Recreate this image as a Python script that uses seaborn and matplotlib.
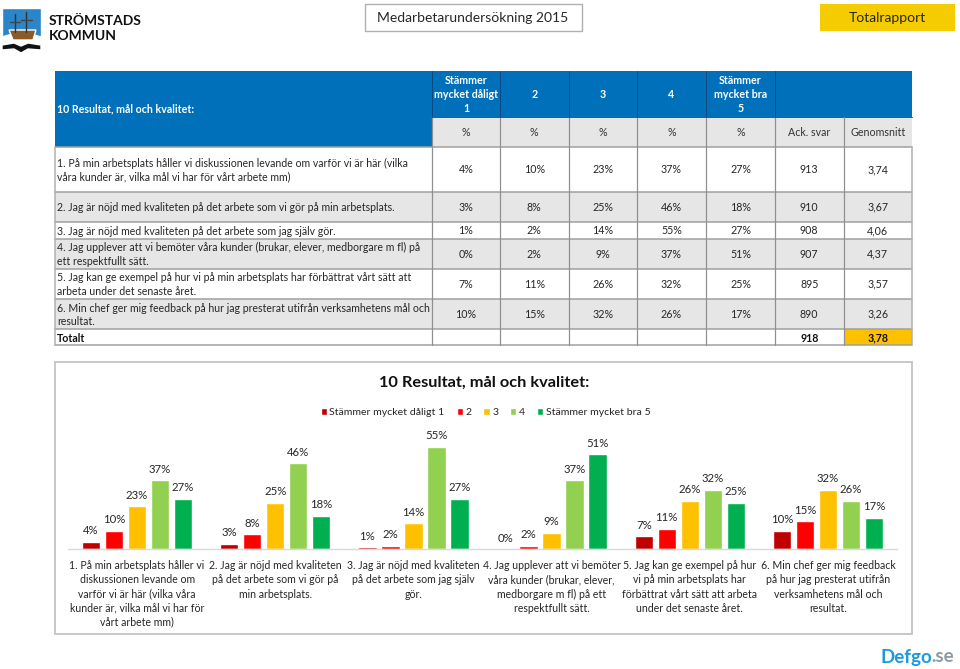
import pandas as pd
import matplotlib.pyplot as plt
from matplotlib.patches import Rectangle, Polygon
import seaborn as sns

# ------- DATA ---------

TITLE = "10 Resultat, mål och kvalitet:"
series_names = ["Stämmer mycket dåligt 1", "2", "3", "4", "Stämmer mycket bra 5"]
series_colors = ["#C00000", "#FF0000", "#FFC000", "#92D050", "#00B050"]

chart_labels = [
    "1. På min arbetsplats håller vi\ndiskussionen levande om\nvarför vi är här (vilka våra\nkunder är, vilka mål vi har för\nvårt arbete mm)",
    "2. Jag är nöjd med kvaliteten\npå det arbete som vi gör på\nmin arbetsplats.",
    "3. Jag är nöjd med kvaliteten\npå det arbete som jag själv\ngör.",
    "4. Jag upplever att vi bemöter\nvåra kunder (brukar, elever,\nmedborgare m fl) på ett\nrespektfullt sätt.",
    "5. Jag kan ge exempel på hur\nvi på min arbetsplats har\nförbättrat vårt sätt att arbeta\nunder det senaste året.",
    "6. Min chef ger mig feedback\npå hur jag presterat utifrån\nverksamhetens mål och\nresultat.",
]
table_labels = [
    "1. På min arbetsplats håller vi diskussionen levande om varför vi är här (vilka\nvåra kunder är, vilka mål vi har för vårt arbete mm)",
    "2. Jag är nöjd med kvaliteten på det arbete som vi gör på min arbetsplats.",
    "3. Jag är nöjd med kvaliteten på det arbete som jag själv gör.",
    "4. Jag upplever att vi bemöter våra kunder (brukar, elever, medborgare m fl) på\nett respektfullt sätt.",
    "5. Jag kan ge exempel på hur vi på min arbetsplats har förbättrat vårt sätt att\narbeta under det senaste året.",
    "6. Min chef ger mig feedback på hur jag presterat utifrån verksamhetens mål och\nresultat.",
]

s1 = [4, 3, 1, 0, 7, 10]
s2 = [10, 8, 2, 2, 11, 15]
s3 = [23, 25, 14, 9, 26, 32]
s4 = [37, 46, 55, 37, 32, 26]
s5 = [27, 18, 27, 51, 25, 17]
ack_svar = ["913", "910", "908", "907", "895", "890"]
genomsnitt = ["3,74", "3,67", "4,06", "4,37", "3,57", "3,26"]
total_svar = "918"
total_snitt = "3,78"

header_cols = ["Stämmer\nmycket dåligt\n1", "2", "3", "4", "Stämmer\nmycket bra\n5"]
sub_cols = ["%", "%", "%", "%", "%", "Ack. svar", "Genomsnitt"]

# ------- LAYOUT (pixels) ---------

W, H = 960, 669
col_x = [55, 432, 500, 568.5, 637, 706, 775, 843.5, 912]
row_y = [146.5, 191.5, 222, 238.5, 268.5, 298.5, 329, 345]
BLUE = "#0070BA"
GREY = "#E6E6E6"
TEXT = "#262626"

sns.set_theme(style="white")
plt.rcParams["font.family"] = ["Lato", "DejaVu Sans"]

fig = plt.figure(figsize=(W / 100, H / 100), dpi=100, facecolor="white")

# page furniture goes on one full size axes in pixel coordinates
page = fig.add_axes([0, 0, 1, 1])
page.set_xlim(0, W)
page.set_ylim(H, 0)
page.axis("off")


def box(x0, y0, x1, y1, fc, ec="none", lw=0.0):
    page.add_patch(Rectangle((x0, y0), x1 - x0, y1 - y0, fc=fc, ec=ec, lw=lw))


def label(x, y, s, size=7.7, color=TEXT, weight="normal", ha="center", spacing=1.32):
    page.text(x, y, s, fontsize=size, color=color, fontweight=weight, ha=ha,
              va="center", linespacing=spacing)


# LOGO

page.add_patch(Polygon([(2, 8), (41, 8), (41, 46), (2, 46)], fc="#2A86C8"))
page.add_patch(Polygon([(2, 37), (12, 34), (21, 39), (31, 34), (41, 37), (41, 46), (2, 46)], fc="white"))
page.add_patch(Polygon([(2, 45), (14, 43), (21, 46), (28, 43), (41, 45), (41, 50), (28, 49), (21, 53), (14, 49), (2, 50)], fc="#111111"))
page.add_patch(Polygon([(9, 30), (36, 30), (33, 40), (13, 40)], fc="#8A5A2B"))
page.plot([15, 15], [14, 32], color="#333333", lw=1)
page.plot([26, 26], [12, 32], color="#333333", lw=1)
page.plot([10, 20], [22, 22], color="#444444", lw=1)
page.plot([21, 32], [20, 20], color="#444444", lw=1)
label(49, 20.5, "STRÖMSTADS", size=10, color="#111111", weight="bold", ha="left")
label(49, 36, "KOMMUN", size=10, color="#111111", weight="bold", ha="left")

# TOP BOXES

box(364.5, 3.5, 581.5, 31, "white", "#B0B0B0", 1)
label(473, 17.5, "Medarbetarundersökning 2015", size=10)
box(819.5, 4, 955, 31, "#F5CC00")
label(887, 17.5, "Totalrapport", size=10)

# TABLE HEADER

box(col_x[0], 71, col_x[-1], 116.5, BLUE)
box(col_x[0], 116.5, col_x[1], 146.5, BLUE)
box(col_x[1], 116.5, col_x[-1], 146.5, GREY)
label(57, 109, TITLE, color="white", weight="bold", ha="left")
for i, txt in enumerate(header_cols):
    label((col_x[i + 1] + col_x[i + 2]) / 2, 94.5, txt, color="white", weight="bold")
for i, txt in enumerate(sub_cols):
    label((col_x[i + 1] + col_x[i + 2]) / 2, 132, txt, color="#333333")

# TABLE ROWS

rows = list(zip(s1, s2, s3, s4, s5))
for r, vals in enumerate(rows):
    y0, y1 = row_y[r], row_y[r + 1]
    ym = (y0 + y1) / 2
    if r in (1, 3, 5):
        box(col_x[0], y0, col_x[-1], y1, GREY)
    label(57, ym + 1.2, table_labels[r], size=7.6, ha="left")
    cells = [f"{v}%" for v in vals] + [ack_svar[r], genomsnitt[r]]
    for c, txt in enumerate(cells):
        label((col_x[c + 1] + col_x[c + 2]) / 2, ym + 0.5, txt)

box(col_x[7], row_y[6], col_x[8], row_y[7], "#FFC000")
label(57, 338, "Totalt", color="#111111", weight="bold", ha="left")
label((col_x[6] + col_x[7]) / 2, 338, total_svar, color="#111111", weight="bold")
label((col_x[7] + col_x[8]) / 2, 338, total_snitt, color="#111111", weight="bold")

# table rules
for y in row_y:
    page.plot([col_x[0], col_x[-1]], [y, y], color="#A0A0A0", lw=1.1)
page.plot([col_x[1], col_x[-1]], [116.5, 116.5], color="#1A5E96", lw=0.7)
for x in col_x[1:-1]:
    page.plot([x, x], [116.5, 345], color="#909090", lw=0.9)
for x in col_x[1:7]:
    page.plot([x, x], [71, 116.5], color="#0B4A80", lw=0.7)
for x in (col_x[0], col_x[-1]):
    page.plot([x, x], [146.5, 345], color="#B0B0B0", lw=1.1)

# CHART FRAME AND TEXT

box(55, 361.5, 912, 634, "white", "#C4C4C4", 1.3)
label(484, 382.5, TITLE, size=11.8, color="#111111", weight="bold")

# DEFGO MARK

page.text(880, 657, "Defgo", fontsize=13.5, color="#1E9ADB", fontweight="bold", ha="left", va="center")
page.text(931, 657, ".se", fontsize=13.5, color="#8E9AA3", fontweight="bold", ha="left", va="center")

# ------- BAR CHART ---------

df = pd.DataFrame({
    "question": chart_labels * 5,
    "serie": [n for n in series_names for _ in chart_labels],
    "value": s1 + s2 + s3 + s4 + s5,
})

ax = fig.add_axes([68 / W, 1 - 549.3 / H, 829 / W, 112 / H])
ax.patch.set_alpha(0)
sns.barplot(df, x="question", y="value", hue="serie", palette=series_colors, width=0.832, gap=0.2,
            saturation=1, ax=ax)
ax.set_ylim(0, 60)
ax.set_xlim(-0.5, 5.5)
ax.set_xlabel("")
ax.set_ylabel("")
ax.set_yticks([])
ax.tick_params(axis="x", length=0, pad=8, labelsize=7.6, labelcolor=TEXT)
for lab in ax.get_xticklabels():
    lab.set_linespacing(1.34)
sns.despine(ax=ax, left=True)
ax.spines["bottom"].set_color("#D9D9D9")
ax.spines["bottom"].set_linewidth(1)
for cont in ax.containers:
    ax.bar_label(cont, fmt="%g%%", padding=4, fontsize=8.2, color=TEXT)

sns.move_legend(ax, "center", bbox_to_anchor=(485.5 / W, 1 - 412.7 / H), bbox_transform=fig.transFigure,
                ncol=5, frameon=False, title=None, fontsize=7.55, handlelength=0.6, handleheight=0.6,
                handletextpad=0.23, columnspacing=1.15, labelcolor=TEXT)

fig.savefig("out.png", dpi=100)
plt.close()
